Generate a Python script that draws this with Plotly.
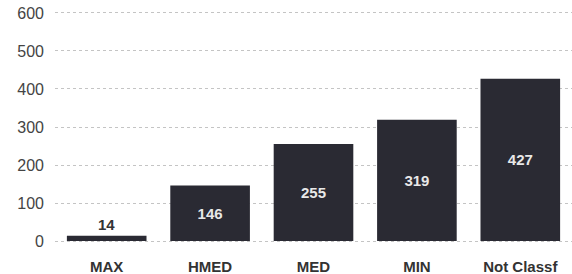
import plotly.graph_objects as go

categories = ["MAX", "HMED", "MED", "MIN", "Not Classf"]
values = [14, 146, 255, 319, 427]
text_positions = ["outside", "inside", "inside", "inside", "inside"]
y_ticks = [0, 100, 200, 300, 400, 500, 600]

fig = go.Figure(go.Bar(
    x=categories, y=values,
    text=[str(v) for v in values],
    texttemplate="<b>%{text}</b>",
    textposition=text_positions,
    insidetextanchor="middle",
    insidetextfont=dict(color="#e8e8e8", size=15, family="Liberation Sans"),
    outsidetextfont=dict(color="#333333", size=15, family="Liberation Sans"),
    marker=dict(color="#2a2a33", line=dict(width=0)),
    width=0.77,
    cliponaxis=False,
))

fig.update_layout(
    width=572, height=274,
    margin=dict(l=55, r=0, t=11, b=31, autoexpand=False),
    paper_bgcolor="white", plot_bgcolor="white",
    showlegend=False,
    font=dict(family="Liberation Sans", color="#333333"),
)
fig.update_xaxes(
    tickfont=dict(size=15, family="Liberation Sans", color="#333333"),
    tickvals=categories,
    ticktext=[f"<b>{c}</b>" for c in categories],
    showline=False, ticks="", showgrid=False, automargin=False,
    ticklabelstandoff=13,
)
fig.update_yaxes(
    range=[-5, 605], tickvals=y_ticks,
    tickfont=dict(size=16, family="Liberation Sans", color="#444444"),
    showgrid=True, gridcolor="#c4c4c4", griddash="dot", gridwidth=1,
    zeroline=False, showline=False, ticks="", ticklabelstandoff=10,
    automargin=False, ticklabeloverflow="allow",
)
fig.write_html(
    "out.html",
    config={"displayModeBar": False},
    post_script="document.body.style.margin='0';document.body.style.overflow='hidden';",
)
